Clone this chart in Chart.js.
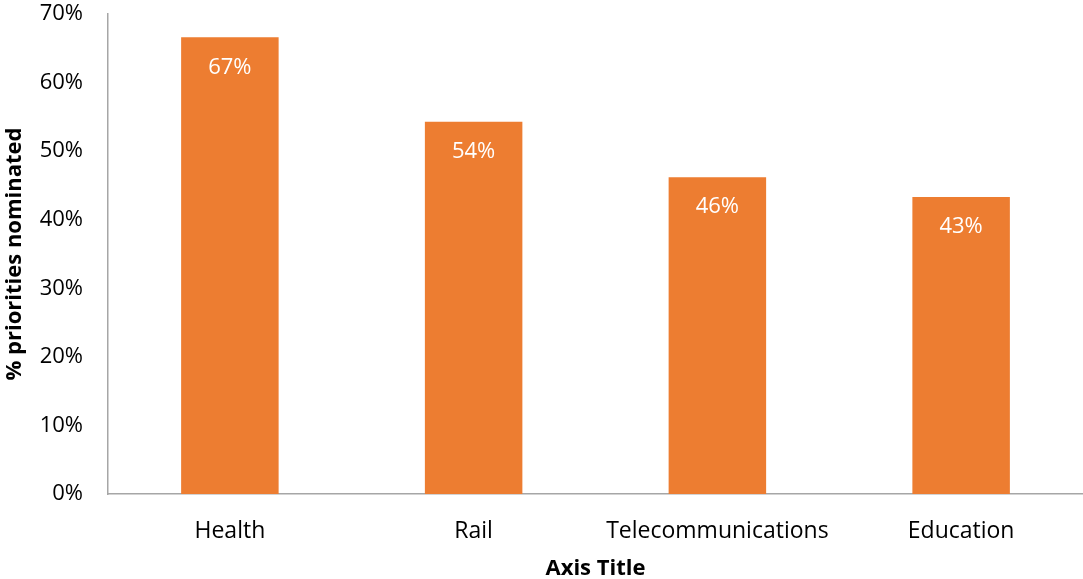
<!DOCTYPE html>
<html>
<head>
<meta charset="utf-8">
<script src="https://cdn.jsdelivr.net/npm/chart.js@4"></script>
<style>
  html, body { margin: 0; padding: 0; background: #fff; }
  #wrap { width: 1083px; height: 579px; }
</style>
</head>
<body>
<div id="wrap"><canvas id="myChart"></canvas></div>
<script>
// priorities data
const categories = ["Health", "Rail", "Telecommunications", "Education"];
const shares = [66.6, 54.3, 46.2, 43.3];
const yTicks = [0, 10, 20, 30, 40, 50, 60, 70];

const FONT = "'Open Sans', 'Liberation Sans', sans-serif";

// white % labels inside the top of each bar
const barLabels = {
    id: "barLabels",
    afterDatasetsDraw(chart) {
        const ctx = chart.ctx;
        const meta = chart.getDatasetMeta(0);
        ctx.save();
        ctx.fillStyle = "#ffffff";
        ctx.font = "22px " + FONT;
        ctx.textAlign = "center";
        ctx.textBaseline = "middle";
        meta.data.forEach((bar, i) => {
            ctx.fillText(shares[i].toFixed(0) + "%", bar.x, bar.y + 30);
        });
        ctx.restore();
    }
};

const ctx = document.getElementById("myChart").getContext("2d");

const myChart = new Chart(ctx, {
    type: "bar",
    data: {
        labels: categories,
        datasets: [{
            data: shares,
            backgroundColor: "#ED7D31",
            categoryPercentage: 1,
            barPercentage: 0.4
        }]
    },
    options: {
        responsive: true,
        maintainAspectRatio: false,
        animation: false,
        layout: { padding: { top: 14, right: 0, left: 0, bottom: 0 } },
        plugins: {
            legend: { display: false },
            tooltip: { enabled: false }
        },
        scales: {
            x: {
                grid: { display: false, drawTicks: false },
                border: { display: true, color: "#A6A6A6", width: 1.5 },
                ticks: { color: "#000", padding: 24, font: { family: FONT, size: 23 } },
                title: {
                    display: true,
                    text: "Axis Title",
                    color: "#000",
                    padding: { top: 0, bottom: -3 },
                    font: { family: FONT, size: 22, weight: "bold" }
                },
                afterFit: s => { s.height = 85; s.paddingLeft = 0; s.paddingRight = 0; }
            },
            y: {
                min: 0,
                max: 70,
                grid: { display: false, drawTicks: false },
                border: { display: true, color: "#A6A6A6", width: 1.5 },
                ticks: {
                    color: "#000",
                    padding: 25,
                    stepSize: 10,
                    font: { family: FONT, size: 22 },
                    callback: v => yTicks.includes(v) ? v + "%" : ""
                },
                title: {
                    display: true,
                    text: "% priorities nominated",
                    color: "#000",
                    padding: { top: 2, bottom: 0 },
                    font: { family: FONT, size: 22, weight: "bold" }
                },
                afterFit: s => { s.width = 108; s.paddingTop = 0; s.paddingBottom = 0; }
            }
        }
    },
    plugins: [barLabels]
});
</script>
</body>
</html>
